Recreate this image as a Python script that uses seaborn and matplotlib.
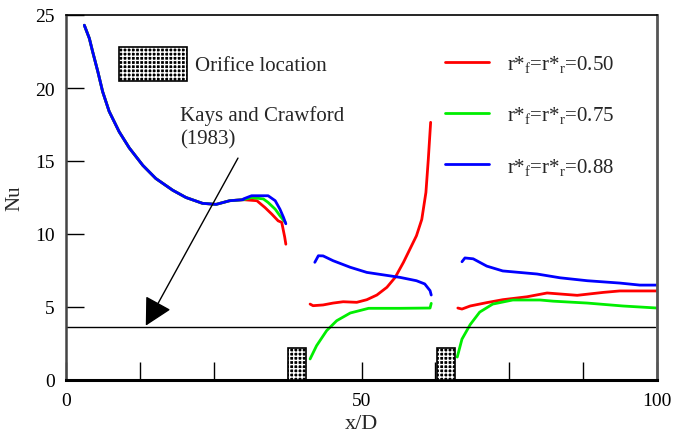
import numpy as np
import pandas as pd
import matplotlib
matplotlib.use("Agg")
import matplotlib.pyplot as plt
import seaborn as sns
from matplotlib.patches import Rectangle
from matplotlib.lines import Line2D

# ---------------- data ----------------
series_labels = [r"r*$_\mathrm{f}$=r*$_\mathrm{r}$=0.50",
                 r"r*$_\mathrm{f}$=r*$_\mathrm{r}$=0.75",
                 r"r*$_\mathrm{f}$=r*$_\mathrm{r}$=0.88"]
series_colors = ["#ff0000", "#00ee00", "#0000ff"]

# segment 1 (entrance region) - common part of all three series
seg1_x_common = [3.1, 3.95, 4.5, 5.4, 6.2, 7.3, 9.0, 10.7, 13.0, 15.2, 18.05, 20.3,
                 23.1, 25.4, 27.7, 30.0]
seg1_y_common = [24.3, 23.4, 22.5, 21.1, 19.75, 18.4, 17.0, 15.9, 14.7, 13.8, 13.0, 12.5,
                 12.1, 12.03, 12.28, 12.35]
red1_x = [30.0, 32.3, 33.7, 34.8, 35.9, 36.5, 36.8, 37.0, 37.2]
red1_y = [12.35, 12.28, 11.8, 11.37, 10.9, 10.8, 10.2, 9.8, 9.3]
green1_x = [30.0, 31.4, 33.4, 34.2, 35.4, 36.2, 37.1]
green1_y = [12.35, 12.5, 12.4, 12.16, 11.7, 11.25, 10.8]
blue1_x = [30.0, 31.4, 34.2, 35.4, 36.2, 36.8, 37.2]
blue1_y = [12.4, 12.62, 12.62, 12.28, 11.7, 11.14, 10.7]

# segment 2 (between orifices)
red2_x = [41.3, 41.8, 43.5, 45.2, 46.9, 49.2, 50.9, 52.6, 54.3, 55.7, 57.1, 58.2, 59.3,
          60.2, 60.9, 61.3, 61.7]
red2_y = [5.2, 5.09, 5.14, 5.27, 5.36, 5.32, 5.5, 5.82, 6.35, 7.03, 8.06, 8.97, 9.88,
          11.0, 12.85, 15.1, 17.65]
green2_x = [41.3, 42.4, 44.1, 45.8, 48.1, 51.2, 56.5, 61.6, 61.8]
green2_y = [1.44, 2.35, 3.38, 4.06, 4.59, 4.91, 4.91, 4.93, 5.25]
blue2_x = [42.1, 42.7, 43.5, 45.2, 48.1, 50.9, 53.7, 56.5, 59.3, 60.7, 61.6, 61.8]
blue2_y = [8.06, 8.51, 8.5, 8.17, 7.72, 7.37, 7.2, 7.03, 6.8, 6.58, 6.12, 5.82]

# segment 3 (after second orifice)
red3_x = [66.3, 67.0, 68.4, 71.2, 73.9, 78.0, 81.4, 86.5, 90.9, 93.7, 100.0]
red3_y = [4.93, 4.86, 5.07, 5.3, 5.5, 5.7, 5.96, 5.8, 6.0, 6.1, 6.1]
green3_x = [66.2, 67.0, 68.4, 70.0, 72.2, 75.6, 80.2, 82.4, 88.2, 94.2, 100.0]
green3_y = [1.57, 2.8, 3.8, 4.65, 5.2, 5.48, 5.48, 5.4, 5.27, 5.07, 4.93]
blue3_x = [67.0, 67.5, 68.9, 71.2, 73.9, 79.7, 83.6, 88.2, 93.7, 97.1, 100.0]
blue3_y = [8.1, 8.36, 8.3, 7.8, 7.47, 7.26, 7.0, 6.8, 6.64, 6.5, 6.5]

kays_crawford_nu = 3.66
orifice_x = [(37.6, 40.6), (62.8, 65.8)]
orifice_height = 2.2

x_ticks = [0, 12.5, 25, 37.5, 50, 62.5, 75, 87.5, 100]
x_ticklabels = ["0", "", "", "", "50", "", "", "", "100"]
y_ticks = [0, 5, 10, 15, 20, 25]

# ---------------- build table ----------------
rows = []
def add(xs, ys, s, seg):
    for a, b in zip(xs, ys):
        rows.append({"x": a, "y": b, "series": s, "seg": seg})

for i, s in enumerate(series_labels):
    add(seg1_x_common, seg1_y_common, s, f"{i}-1a")
add(red1_x, red1_y, series_labels[0], "0-1b")
add(green1_x, green1_y, series_labels[1], "1-1b")
add(blue1_x, blue1_y, series_labels[2], "2-1b")
add(red2_x, red2_y, series_labels[0], "0-2")
add(green2_x, green2_y, series_labels[1], "1-2")
add(blue2_x, blue2_y, series_labels[2], "2-2")
add(red3_x, red3_y, series_labels[0], "0-3")
add(green3_x, green3_y, series_labels[1], "1-3")
add(blue3_x, blue3_y, series_labels[2], "2-3")
df = pd.DataFrame(rows)

# ---------------- plot ----------------
sns.set_style("white")
plt.rcParams["font.family"] = ["Liberation Serif", "DejaVu Serif"]
plt.rcParams["mathtext.fontset"] = "custom"
plt.rcParams["mathtext.rm"] = "Liberation Serif"
plt.rcParams["mathtext.it"] = "Liberation Serif:italic"

fig = plt.figure(figsize=(6.73, 4.35), dpi=100)
ax = fig.add_axes([66/673, 54/435, (657-66)/673, (381-16)/435])

sns.lineplot(data=df, x="x", y="y", hue="series", units="seg", estimator=None,
             sort=False, palette=dict(zip(series_labels, series_colors)),
             hue_order=series_labels, linewidth=2, ax=ax, legend=False)

ax.axhline(kays_crawford_nu, xmin=0, xmax=0.997, color="black", lw=1)

for (x0, x1) in orifice_x:
    ax.add_patch(Rectangle((x0, 0), x1 - x0, orifice_height, facecolor="black",
                           edgecolor="white", hatch="++++", lw=0, zorder=5))
    ax.add_patch(Rectangle((x0, 0), x1 - x0, orifice_height, facecolor="none",
                           edgecolor="black", lw=1.2, zorder=6))

# orifice legend
ax.add_patch(Rectangle((9.0, 20.45), 11.5, 2.35, facecolor="black",
                       edgecolor="white", hatch="++++", lw=0, zorder=5))
ax.add_patch(Rectangle((9.0, 20.45), 11.5, 2.35, facecolor="none",
                       edgecolor="black", lw=1.2, zorder=6))
ax.text(21.8, 21.55, "Orifice location", fontsize=15, va="center", ha="left")

ax.text(19.3, 18.85, "Kays and Crawford\n(1983)", fontsize=15, va="top", ha="left",
        linespacing=1.3)
ax.annotate("", xy=(13.5, 3.72), xytext=(29.1, 15.2),
            arrowprops=dict(arrowstyle="-|>,head_length=0.85,head_width=0.45",
                            mutation_scale=20, color="black", lw=1,
                            shrinkA=0, shrinkB=0))

handles = [Line2D([], [], color=c, lw=2) for c in series_colors]
ax.legend(handles, series_labels, loc="upper left", bbox_to_anchor=(0.627, 0.918),
          frameon=False, fontsize=15, handlelength=2.1, handletextpad=0.9,
          labelspacing=1.45, borderaxespad=0)

ax.set_xlim(0, 100)
ax.set_ylim(0, 25)
ax.set_xticks(x_ticks)
ax.set_xticklabels(x_ticklabels)
ax.set_yticks(y_ticks)
ax.tick_params(direction="in", length=13, width=1, labelsize=14, colors="black",
               bottom=True, left=True)
ax.tick_params(axis="x", pad=9)
ax.tick_params(axis="y", pad=8)
ax.set_xlabel("x/D", fontsize=16, labelpad=3)
ax.set_ylabel("Nu", fontsize=15, labelpad=8)
for side in ["top", "right"]:
    ax.spines[side].set_linewidth(1.2)
    ax.spines[side].set_color("black")
ax.spines["right"].set_color("#555555")
ax.spines["right"].set_linewidth(2)
ax.spines["left"].set_linewidth(1.8)
ax.spines["left"].set_color("#444444")
ax.spines["bottom"].set_linewidth(2.2)
ax.spines["bottom"].set_color("black")

fig.savefig("out.png", dpi=100)
